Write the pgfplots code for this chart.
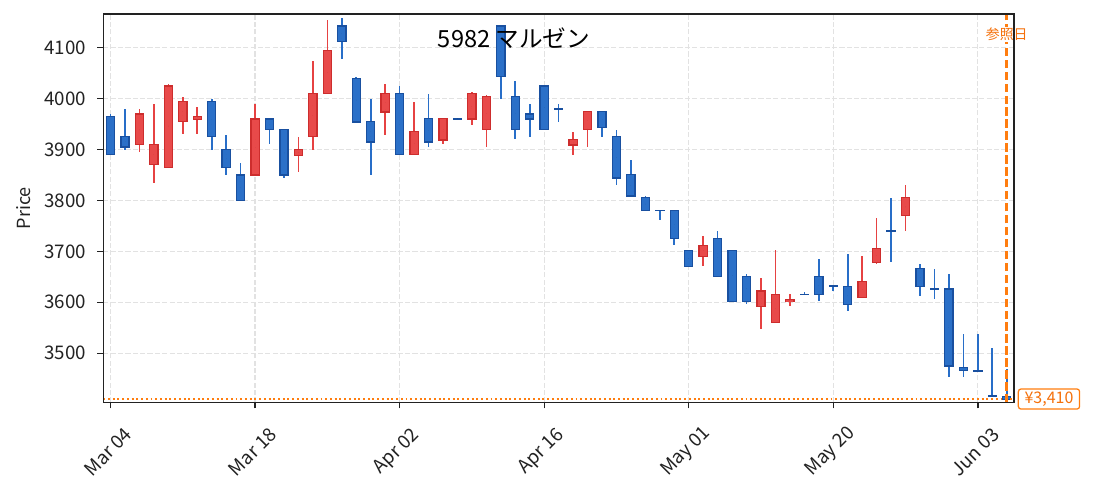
\documentclass[border=0pt]{standalone}
\usepackage{fontspec}
\setmainfont{Noto Sans CJK JP}
\usepackage{pgfplots}
\pgfplotsset{compat=1.18}
\usepackage{pgfplotstable}
\definecolor{redF}{RGB}{232,74,74}
\definecolor{redE}{RGB}{205,45,45}
\definecolor{redW}{RGB}{230,66,66}
\definecolor{bluF}{RGB}{43,112,200}
\definecolor{bluE}{RGB}{25,80,160}
\definecolor{bluW}{RGB}{40,110,200}
\definecolor{gridc}{RGB}{226,226,226}
\definecolor{orangeL}{RGB}{255,125,15}
\definecolor{orangeT}{RGB}{245,112,10}
\definecolor{frame}{RGB}{34,34,34}

\pgfplotstableread{
x o h l c
2 3910 3980 3896 3970
3 3870 3990 3835 3910
4 3865 4029 3865 4025
5 3955 4003 3930 3995
6 3960 3984 3930 3965
10 3850 3990 3850 3960
13 3889 3925 3855 3900
14 3925 4074 3900 4010
15 4010 4154 4010 4094
19 3974 4029 3929 4010
21 3890 3993 3890 3935
23 3919 3963 3910 3961
25 3960 4013 3948 4010
26 3939 4008 3906 4004
32 3909 3935 3890 3920
33 3939 3975 3906 3975
41 3690 3731 3671 3712
45 3592 3647 3548 3622
46 3561 3702 3561 3616
47 3602 3616 3592 3605
52 3610 3690 3610 3641
53 3678 3765 3676 3706
55 3770 3831 3741 3806
}\upT

\pgfplotstableread{
x o h l c
0 3965 3969 3890 3890
1 3925 3980 3900 3905
7 3995 3999 3900 3925
8 3900 3929 3851 3865
9 3850 3874 3800 3800
11 3960 3960 3910 3940
12 3940 3940 3845 3850
16 4143 4158 4078 4113
17 4039 4043 3954 3954
18 3955 4000 3850 3915
20 4010 4024 3890 3890
22 3961 4009 3906 3915
24 3961 3961 3960 3960
27 4143 4143 4000 4044
28 4004 4035 3920 3939
29 3970 3989 3925 3960
30 4025 4025 3939 3939
31 3980 3989 3955 3979
34 3975 3975 3925 3944
35 3925 3939 3831 3844
36 3851 3880 3809 3809
37 3806 3809 3780 3780
38 3781 3781 3761 3780
39 3781 3781 3712 3725
40 3702 3702 3670 3670
42 3726 3741 3651 3651
43 3702 3702 3602 3602
44 3651 3656 3597 3602
48 3616 3620 3615 3615
49 3651 3686 3602 3616
50 3632 3632 3622 3631
51 3631 3695 3582 3595
54 3741 3805 3680 3740
56 3667 3675 3612 3631
57 3626 3666 3606 3625
58 3626 3656 3454 3475
59 3472 3537 3454 3466
60 3465 3537 3464 3464
61 3417 3510 3414 3416
62 3415 3468 3410 3410
}\dnT

\pgfplotsset{candle/.style={only marks, mark=*, mark size=0pt, mark options={draw=none, fill=none}, forget plot,
  error bars/.cd, y dir=both, y explicit, error mark=none}}

\begin{document}
\begin{tikzpicture}
\begin{axis}[
  scale only axis, width=655.7pt, height=279.7pt,
  xmin=-0.5, xmax=62.5, ymin=3403.2, ymax=4166.3,
  xtick={0,10,20,30,40,50,60},
  xticklabels={Mar 04,Mar 18,Apr 02,Apr 16,May 01,May 20,Jun 03},
  ytick={3500,3600,3700,3800,3900,4000,4100},
  tick pos=left, tick align=outside, major tick length=4.3pt,
  every tick/.style={color=frame, line width=1pt},
  axis line style={color=frame, line width=1.1pt},
  grid=major,
  major grid style={dash pattern=on 3.7pt off 1.6pt, color=gridc, line width=0.9pt},
  ticklabel style={font=\fontsize{13.5}{15}\selectfont, color=frame},
  /pgf/number format/assume math mode=true,
  /pgf/number format/1000 sep={},
  xticklabel style={xshift=-1.8pt, yshift=-31.3pt, rotate=45, anchor=center},
  yticklabel style={anchor=east, xshift=-4.5pt},
  ylabel={Price},
  every axis y label/.style={at={(axis description cs:-0.087,0.5)}, rotate=90, anchor=center, font=\fontsize{13}{15}\selectfont, color=frame},
  clip=false,
]
% wicks
\addplot[candle, error bar style={line width=1.15pt, color=redW}]
  table[x=x, y expr={(\thisrow{h}+\thisrow{l})/2}, y error expr={(\thisrow{h}-\thisrow{l})/2}] {\upT};
\addplot[candle, error bar style={line width=1.15pt, color=bluW}]
  table[x=x, y expr={(\thisrow{h}+\thisrow{l})/2}, y error expr={(\thisrow{h}-\thisrow{l})/2}] {\dnT};
% bodies edge
\addplot[candle, error bar style={line width=6.8pt, color=redE}]
  table[x=x, y expr={(\thisrow{o}+\thisrow{c})/2}, y error expr={abs(\thisrow{o}-\thisrow{c})/2+1.22}] {\upT};
\addplot[candle, error bar style={line width=6.8pt, color=bluE}]
  table[x=x, y expr={(\thisrow{o}+\thisrow{c})/2}, y error expr={abs(\thisrow{o}-\thisrow{c})/2+1.22}] {\dnT};
% bodies fill
\addplot[candle, error bar style={line width=5.0pt, color=redF}]
  table[x=x, y expr={(\thisrow{o}+\thisrow{c})/2}, y error expr={max(abs(\thisrow{o}-\thisrow{c})/2-1.22,0)}] {\upT};
\addplot[candle, error bar style={line width=5.0pt, color=bluF}]
  table[x=x, y expr={(\thisrow{o}+\thisrow{c})/2}, y error expr={max(abs(\thisrow{o}-\thisrow{c})/2-1.22,0)}] {\dnT};
% reference lines
\addplot[draw=orangeL, line width=1.4pt, dash pattern=on 1.4pt off 2.0pt, forget plot] coordinates {(-0.5,3410) (62.5,3410)};
\addplot[draw=orangeL, line width=2pt, dash pattern=on 6pt off 2.6pt, forget plot] coordinates {(62,3403.2) (62,4166.3)};
\node[font=\fontsize{17}{19}\selectfont, color=black] at (rel axis cs:0.451,0.9387) {5982 マルゼン};
\node[font=\fontsize{10}{12}\selectfont, text=orangeT, fill=white, inner sep=1pt] at (axis cs:62,4126) {参照日};
\draw[color=frame, line width=1.1pt] (rel axis cs:0,0) rectangle (rel axis cs:1,1);
\node[anchor=west, draw=orangeL, fill=white, rounded corners=2pt, text=orangeT, font=\fontsize{11.5}{13}\selectfont, inner xsep=4.5pt, inner ysep=2pt, line width=0.9pt, xshift=2.7pt] at (axis cs:62.5,3410) {¥3,410};
\end{axis}
\pgfresetboundingbox
\path[use as bounding box] ([xshift=-74.4pt,yshift=-63.7pt]current axis.south west) rectangle ([xshift=56.9pt,yshift=10.1pt]current axis.north east);
\end{tikzpicture}
\end{document}
